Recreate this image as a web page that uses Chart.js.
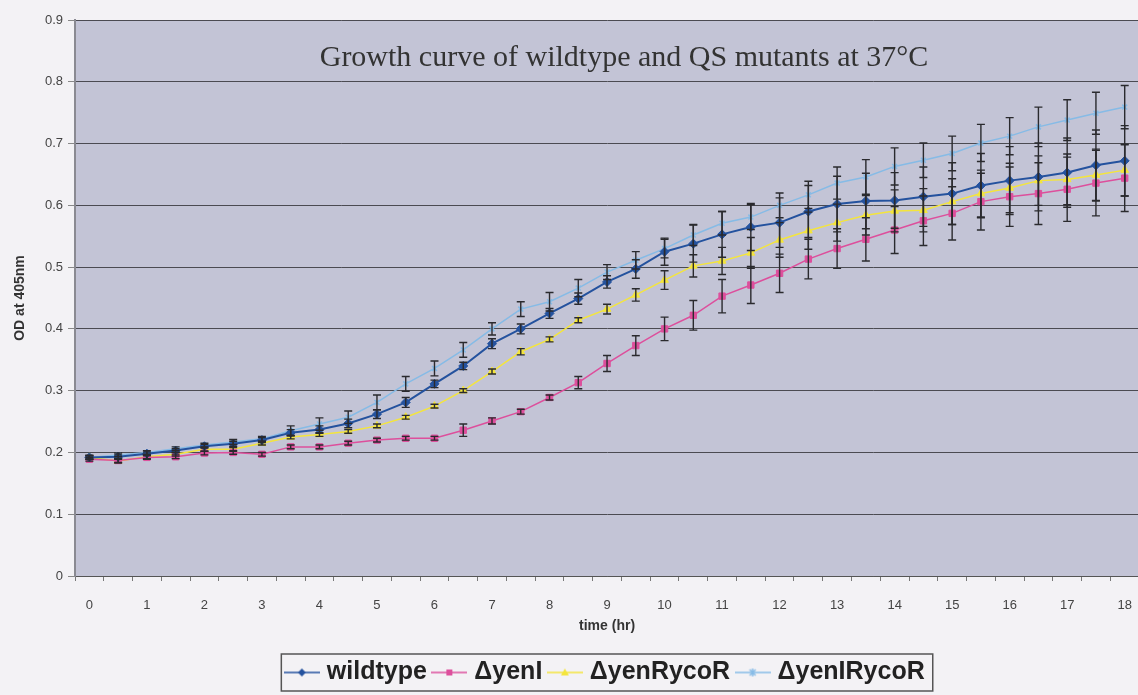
<!DOCTYPE html>
<html>
<head>
<meta charset="utf-8">
<script src="https://cdn.jsdelivr.net/npm/chart.js@4.4.1/dist/chart.umd.min.js"></script>
<style>
  html, body { margin: 0; padding: 0; background: #f3f2f5; overflow: hidden; }
  #wrap { position: absolute; left: 0; top: 0; width: 1149px; height: 695px; }
</style>
</head>
<body>
<div id="wrap"><canvas id="growthChart"></canvas></div>
<script>
// data
const times = ['0', '0.5', '1', '1.5', '2', '2.5', '3', '3.5', '4', '4.5', '5', '5.5', '6', '6.5', '7', '7.5', '8', '8.5', '9',
  '9.5', '10', '10.5', '11', '11.5', '12', '12.5', '13', '13.5', '14', '14.5', '15', '15.5', '16', '16.5', '17', '17.5', '18'];

const wildtype = [0.192, 0.193, 0.198, 0.203, 0.210, 0.214, 0.220, 0.232, 0.237, 0.247, 0.262, 0.281, 0.311, 0.340, 0.376, 0.400, 0.425, 0.449, 0.476,
  0.497, 0.525, 0.538, 0.553, 0.565, 0.572, 0.590, 0.602, 0.607, 0.608, 0.614, 0.619, 0.632, 0.640, 0.646, 0.653, 0.665, 0.672];
const yenI = [0.189, 0.187, 0.192, 0.193, 0.199, 0.200, 0.197, 0.209, 0.209, 0.215, 0.220, 0.223, 0.223, 0.236, 0.251, 0.266, 0.289, 0.313, 0.344,
  0.373, 0.400, 0.422, 0.453, 0.471, 0.490, 0.513, 0.530, 0.545, 0.560, 0.575, 0.587, 0.606, 0.614, 0.619, 0.626, 0.636, 0.644];
const yenRycoR = [0.192, 0.186, 0.193, 0.197, 0.205, 0.205, 0.215, 0.225, 0.229, 0.234, 0.243, 0.257, 0.275, 0.300, 0.331, 0.363, 0.383, 0.414, 0.432,
  0.455, 0.479, 0.502, 0.510, 0.523, 0.544, 0.559, 0.572, 0.584, 0.591, 0.592, 0.606, 0.619, 0.628, 0.640, 0.642, 0.649, 0.657];
const yenIRycoR = [0.192, 0.196, 0.200, 0.206, 0.212, 0.217, 0.222, 0.235, 0.246, 0.257, 0.281, 0.311, 0.336, 0.366, 0.400, 0.432, 0.444, 0.466, 0.492,
  0.511, 0.530, 0.552, 0.571, 0.581, 0.600, 0.617, 0.636, 0.646, 0.663, 0.673, 0.684, 0.701, 0.712, 0.727, 0.738, 0.749, 0.759];

// error bars (± sd)
const errWildtype = [0.003, 0.003, 0.003, 0.003, 0.003, 0.004, 0.004, 0.005, 0.006, 0.007, 0.007, 0.008, 0.006, 0.006, 0.008, 0.008, 0.008, 0.009, 0.010,
  0.015, 0.022, 0.030, 0.037, 0.038, 0.040, 0.042, 0.045, 0.045, 0.045, 0.048, 0.050, 0.052, 0.055, 0.055, 0.056, 0.057, 0.057];
const errYenI = [0.003, 0.003, 0.003, 0.003, 0.003, 0.003, 0.003, 0.003, 0.003, 0.003, 0.003, 0.003, 0.003, 0.010, 0.005, 0.004, 0.004, 0.010, 0.013,
  0.016, 0.019, 0.024, 0.027, 0.030, 0.031, 0.032, 0.032, 0.035, 0.038, 0.040, 0.043, 0.046, 0.048, 0.050, 0.052, 0.053, 0.054];
const errYenRycoR = [0.003, 0.003, 0.003, 0.003, 0.003, 0.003, 0.003, 0.003, 0.003, 0.003, 0.003, 0.003, 0.003, 0.003, 0.004, 0.005, 0.004, 0.004, 0.008,
  0.010, 0.015, 0.018, 0.022, 0.025, 0.028, 0.030, 0.030, 0.032, 0.034, 0.035, 0.037, 0.038, 0.040, 0.040, 0.041, 0.042, 0.042];
const errYenIRycoR = [0.003, 0.003, 0.003, 0.003, 0.003, 0.004, 0.004, 0.008, 0.010, 0.010, 0.012, 0.012, 0.012, 0.012, 0.010, 0.012, 0.015, 0.014, 0.012,
  0.014, 0.015, 0.017, 0.019, 0.020, 0.020, 0.022, 0.026, 0.028, 0.030, 0.028, 0.028, 0.030, 0.030, 0.032, 0.033, 0.034, 0.035];

const seriesNames = ['wildtype', '\u0394yenI', '\u0394yenRycoR', '\u0394yenIRycoR'];
const seriesColors = ['#24529e', '#dd4f9c', '#f4e53c', '#86bbe6'];

// small legend icon: line with marker in the middle
function legendIcon(color, style) {
    const c = document.createElement('canvas');
    c.width = 36; c.height = 12;
    const g = c.getContext('2d');
    g.strokeStyle = color; g.fillStyle = color; g.lineWidth = 1.5;
    g.beginPath(); g.moveTo(0, 6); g.lineTo(36, 6); g.stroke();
    g.beginPath();
    if (style === 'rectRot') { g.moveTo(18, 2); g.lineTo(22, 6); g.lineTo(18, 10); g.lineTo(14, 6); g.fill(); }
    else if (style === 'rect') { g.fillRect(15, 3, 6, 6); }
    else if (style === 'triangle') { g.moveTo(18, 2); g.lineTo(22, 9); g.lineTo(14, 9); g.fill(); }
    else { g.moveTo(15, 3); g.lineTo(21, 9); g.moveTo(21, 3); g.lineTo(15, 9); g.moveTo(18, 2); g.lineTo(18, 10); g.stroke(); }
    return c;
}

// error bar drawing
const errorBars = {
    id: 'errorBars',
    afterDatasetsDraw(chart) {
        const ctx = chart.ctx;
        const y = chart.scales.y;
        ctx.save();
        ctx.strokeStyle = '#2a2a2e';
        ctx.lineWidth = 1.4;
        chart.data.datasets.forEach((ds, i) => {
            const meta = chart.getDatasetMeta(i);
            ds.errors.forEach((e, j) => {
                const x = meta.data[j].x;
                const top = y.getPixelForValue(ds.data[j] + e);
                const bot = y.getPixelForValue(ds.data[j] - e);
                ctx.beginPath();
                ctx.moveTo(x, top); ctx.lineTo(x, bot);
                ctx.moveTo(x - 4, top); ctx.lineTo(x + 4, top);
                ctx.moveTo(x - 4, bot); ctx.lineTo(x + 4, bot);
                ctx.stroke();
            });
        });
        ctx.restore();
    }
};

// plot background, title inside plot, legend frame
const decor = {
    id: 'decor',
    beforeDraw(chart) {
        const a = chart.chartArea, ctx = chart.ctx;
        ctx.save();
        ctx.fillStyle = '#c3c4d6';
        ctx.fillRect(a.left, a.top, a.right - a.left, a.bottom - a.top);
        ctx.restore();
    },
    afterDraw(chart) {
        const a = chart.chartArea, ctx = chart.ctx;
        ctx.save();
        ctx.font = '30px "Liberation Serif", "Times New Roman", serif';
        ctx.fillStyle = '#333';
        ctx.textAlign = 'center';
        ctx.textBaseline = 'middle';
        ctx.fillText('Growth curve of wildtype and QS mutants at 37\u00B0C', 624, a.top + 38);
        const boxes = chart.legend.legendHitBoxes;
        if (boxes && boxes.length) {
            const l = Math.min(...boxes.map(b => b.left)) - 8;
            const r = Math.max(...boxes.map(b => b.left + b.width)) + 8;
            const t = Math.min(...boxes.map(b => b.top)) - 6;
            const btm = Math.max(...boxes.map(b => b.top + b.height)) + 6;
            ctx.strokeStyle = '#555';
            ctx.lineWidth = 1.5;
            ctx.strokeRect(l, t, r - l, btm - t);
        }
        ctx.restore();
    }
};

const pointStyles = ['rectRot', 'rect', 'triangle', 'crossRot'];
const allData = [wildtype, yenI, yenRycoR, yenIRycoR];
const allErr = [errWildtype, errYenI, errYenRycoR, errYenIRycoR];

document.addEventListener('DOMContentLoaded', function() {
    const ctx = document.getElementById('growthChart').getContext('2d');
    new Chart(ctx, {
        type: 'line',
        data: {
            labels: times,
            datasets: allData.map((d, i) => ({
                label: seriesNames[i],
                data: d,
                errors: allErr[i],
                borderColor: seriesColors[i],
                backgroundColor: seriesColors[i],
                borderWidth: i === 0 ? 2 : 1.5,
                pointStyle: pointStyles[i],
                pointRadius: i === 3 ? 3.5 : 4.5,
                pointBorderWidth: i === 3 ? 1.5 : 1,
                tension: 0
            }))
        },
        options: {
            responsive: true,
            maintainAspectRatio: false,
            animation: false,
            layout: { padding: { top: 20, right: 0, left: 0, bottom: 0 } },
            plugins: {
                title: { display: false },
                tooltip: { enabled: false },
                legend: {
                    position: 'bottom',
                    fullSize: false,
                    labels: {
                        color: '#222',
                        font: { family: '"Liberation Sans", Arial, sans-serif', size: 25, weight: 'bold' },
                        usePointStyle: true,
                        padding: 10,
                        generateLabels(chart) {
                            return chart.data.datasets.map((ds, i) => ({
                                text: ds.label,
                                fontColor: '#222',
                                pointStyle: legendIcon(seriesColors[i], pointStyles[i]),
                                datasetIndex: i,
                                lineWidth: 0,
                                strokeStyle: 'transparent',
                                fillStyle: 'transparent'
                            }));
                        }
                    }
                }
            },
            scales: {
                x: {
                    offset: true,
                    grid: { drawOnChartArea: false, drawTicks: true, tickLength: 5, color: '#777', offset: true },
                    border: { color: '#555', width: 1 },
                    ticks: {
                        autoSkip: false, maxRotation: 0, color: '#444', padding: 17,
                        font: { family: '"Liberation Sans", Arial, sans-serif', size: 13 },
                        callback(v) { const t = times[v]; return t.indexOf('.') < 0 ? t : ''; }
                    },
                    title: {
                        display: true, text: 'time (hr)', color: '#333', padding: { top: 0, bottom: 15 },
                        font: { family: '"Liberation Sans", Arial, sans-serif', size: 14, weight: 'bold' }
                    },
                    afterFit(s) { s.height = 74; }
                },
                y: {
                    min: 0, max: 0.9,
                    ticks: {
                        stepSize: 0.1, color: '#444', padding: 5,
                        font: { family: '"Liberation Sans", Arial, sans-serif', size: 13 },
                        callback(v) { return Math.round(v * 10) / 10; }
                    },
                    grid: { color: '#4b4b52', lineWidth: 1, tickLength: 7, tickColor: '#888' },
                    border: { color: '#8a8a92', width: 2 },
                    title: {
                        display: true, text: 'OD at 405nm', color: '#333', padding: { top: 12, bottom: 0 },
                        font: { family: '"Liberation Sans", Arial, sans-serif', size: 14, weight: 'bold' }
                    },
                    afterFit(s) { s.width = 75; }
                }
            }
        },
        plugins: [decor, errorBars]
    });
});
</script>
</body>
</html>
